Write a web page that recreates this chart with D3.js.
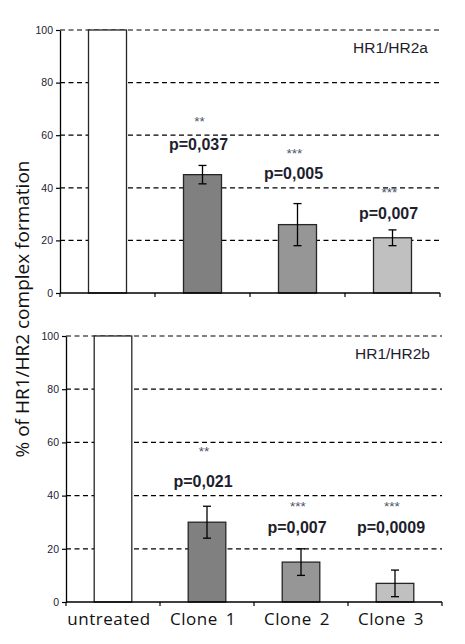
<!DOCTYPE html>
<html>
<head>
<meta charset="utf-8">
<script src="https://cdn.jsdelivr.net/npm/d3@7"></script>
<style>
  body { margin: 0; background: #fff; }
  svg { display: block; }
</style>
</head>
<body>
<div id="chart"></div>
<script>
// data
const categories = ["untreated", "Clone 1", "Clone 2", "Clone 3"];
const yTicks = [0, 20, 40, 60, 80, 100];
const panelNames = ["HR1/HR2a", "HR1/HR2b"];

const valuesA = [100, 45, 26, 21];
const errorsA = [0, 3.5, 8, 3];
const pLabelsA = ["", "p=0,037", "p=0,005", "p=0,007"];
const starsA = ["", "**", "***", "***"];
const pLevelA = [null, 54.5, 43.5, 28];
const starLevelA = [null, 66.5, 54.4, 39.5];

const valuesB = [100, 30, 15, 7];
const errorsB = [0, 6, 5, 5];
const pLabelsB = ["", "p=0,021", "p=0,007", "p=0,0009"];
const starsB = ["", "**", "***", "***"];
const pLevelB = [null, 43.3, 25.9, 25.9];
const starLevelB = [null, 58, 37.3, 37.3];

const barColours = ["#ffffff", "#808080", "#969696", "#c0c0c0"];

const width = 465, height = 644;

const svg = d3.select("#chart").append("svg")
    .attr("width", width)
    .attr("height", height);

const panels = [
  {left: 60, right: 440, top: 30, bottom: 293, name: panelNames[0],
   values: valuesA, errors: errorsA, pLabels: pLabelsA, stars: starsA, pLevel: pLevelA, starLevel: starLevelA},
  {left: 66, right: 442, top: 336, bottom: 602, name: panelNames[1],
   values: valuesB, errors: errorsB, pLabels: pLabelsB, stars: starsB, pLevel: pLevelB, starLevel: starLevelB}
];

panels.forEach(function(p, pi) {
  const x = d3.scaleBand().domain(categories).range([p.left, p.right])
      .paddingInner(0.6).paddingOuter(0.3);
  const y = d3.scaleLinear().domain([0, 100]).range([p.bottom, p.top]);
  const g = svg.append("g");

  const rows = categories.map(function(c, i) {
    return {cat: c, value: p.values[i], err: p.errors[i], pLabel: p.pLabels[i],
            star: p.stars[i], pLevel: p.pLevel[i], starLevel: p.starLevel[i], colour: barColours[i]};
  });

  // dashed gridlines
  g.selectAll(".grid").data(yTicks.filter(function(t) { return t > 0; }))
    .enter().append("line")
      .attr("x1", p.left).attr("x2", p.right)
      .attr("y1", function(d) { return y(d); })
      .attr("y2", function(d) { return y(d); })
      .attr("stroke", "#000").attr("stroke-width", 1.2)
      .attr("stroke-dasharray", "5,3.5");

  // bars
  g.selectAll(".bar").data(rows).enter().append("rect")
      .attr("x", function(d) { return x(d.cat); })
      .attr("y", function(d) { return y(d.value); })
      .attr("width", x.bandwidth())
      .attr("height", function(d) { return y(0) - y(d.value); })
      .attr("fill", function(d) { return d.colour; })
      .attr("stroke", "#262626").attr("stroke-width", 1.3);

  // error bars
  const eb = g.selectAll(".err").data(rows.filter(function(d) { return d.err > 0; }))
    .enter().append("g")
      .attr("stroke", "#000").attr("stroke-width", 1.3);
  eb.append("line")
      .attr("x1", function(d) { return x(d.cat) + x.bandwidth() / 2; })
      .attr("x2", function(d) { return x(d.cat) + x.bandwidth() / 2; })
      .attr("y1", function(d) { return y(d.value + d.err); })
      .attr("y2", function(d) { return y(d.value - d.err); });
  [1, -1].forEach(function(s) {
    eb.append("line")
        .attr("x1", function(d) { return x(d.cat) + x.bandwidth() / 2 - 4; })
        .attr("x2", function(d) { return x(d.cat) + x.bandwidth() / 2 + 4; })
        .attr("y1", function(d) { return y(d.value + s * d.err); })
        .attr("y2", function(d) { return y(d.value + s * d.err); });
  });

  // y axis
  const yAxis = d3.axisLeft(y).tickValues(yTicks).tickSize(4).tickSizeOuter(0).tickPadding(3);
  const ya = g.append("g").attr("transform", "translate(" + p.left + ",0)").call(yAxis);
  ya.select(".domain").attr("stroke", "#000").attr("stroke-width", 1.3);
  ya.selectAll(".tick line").attr("stroke", "#000").attr("stroke-width", 1.2);
  ya.selectAll(".tick text")
      .attr("font-family", "Liberation Sans, Arial, sans-serif")
      .attr("font-size", 10.5).attr("fill", "#222233");

  // x axis line with ticks at band boundaries
  g.append("line")
      .attr("x1", p.left).attr("x2", p.right)
      .attr("y1", y(0)).attr("y2", y(0))
      .attr("stroke", "#000").attr("stroke-width", 1.3);
  const gap = (x.step() - x.bandwidth()) / 2;
  const bounds = categories.map(function(c) { return x(c) - gap; }).concat([p.right]);
  g.selectAll(".xtick").data(bounds).enter().append("line")
      .attr("x1", function(d) { return d; }).attr("x2", function(d) { return d; })
      .attr("y1", y(0)).attr("y2", y(0) + 4)
      .attr("stroke", "#000").attr("stroke-width", 1.2);

  // p-values and stars
  const ann = rows.filter(function(d) { return d.pLabel; });
  g.selectAll(".pval").data(ann).enter().append("text")
      .attr("x", function(d) { return x(d.cat) + x.bandwidth() / 2 - 4; })
      .attr("y", function(d) { return y(d.pLevel); })
      .attr("text-anchor", "middle")
      .attr("font-family", "Liberation Sans, Arial, sans-serif")
      .attr("font-weight", "bold").attr("font-size", 16)
      .attr("fill", "#1e1e2e")
      .text(function(d) { return d.pLabel; });
  g.selectAll(".star").data(ann).enter().append("text")
      .attr("x", function(d) { return x(d.cat) + x.bandwidth() / 2 - 3; })
      .attr("y", function(d) { return y(d.starLevel) + 8; })
      .attr("text-anchor", "middle")
      .attr("font-family", "Liberation Sans, Arial, sans-serif")
      .attr("font-size", 13.5)
      .attr("fill", "#4a5468")
      .text(function(d) { return d.star; });

  // panel name
  g.append("text")
      .attr("x", p.right - 12)
      .attr("y", y(91.3))
      .attr("text-anchor", "end")
      .attr("font-family", "Liberation Sans, Arial, sans-serif")
      .attr("font-size", 15.5)
      .attr("fill", "#1e1e2e")
      .text(p.name);

  // category labels only under the lower panel
  if (pi === 1) {
    g.selectAll(".cat").data(categories).enter().append("text")
        .attr("x", function(d) { return x(d) + x.bandwidth() / 2 - 4; })
        .attr("y", y(0) + 23)
        .attr("text-anchor", "middle")
        .attr("font-family", "Open Sans, sans-serif")
        .attr("font-size", 17)
        .attr("letter-spacing", 0.5)
        .attr("word-spacing", 3)
        .attr("fill", "#111")
        .text(function(d) { return d; });
  }
});

// shared y title
svg.append("text")
    .attr("transform", "translate(29,309) rotate(-90)")
    .attr("text-anchor", "middle")
    .attr("font-family", "Open Sans, sans-serif")
    .attr("font-size", 19)
    .attr("fill", "#111")
    .text("% of HR1/HR2 complex formation");
</script>
</body>
</html>
